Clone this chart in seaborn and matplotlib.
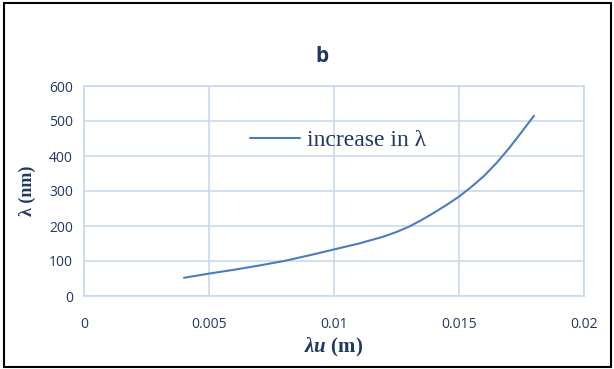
import numpy as np
import pandas as pd
import matplotlib.pyplot as plt
import seaborn as sns
from matplotlib.patches import Rectangle

# values
lambda_u = [0.004, 0.005, 0.006, 0.007, 0.008, 0.009, 0.010, 0.011, 0.012, 0.0125, 0.013, 0.0135,
            0.014, 0.0145, 0.015, 0.0155, 0.016, 0.0165, 0.017, 0.0175, 0.018]
lambda_nm = [52, 64, 75, 87, 100, 116, 133, 150, 170, 183, 198, 217,
             238, 260, 284, 312, 343, 380, 422, 468, 515]
x_ticks = [0, 0.005, 0.01, 0.015, 0.02]
x_tick_labels = ['0', '0.005', '0.01', '0.015', '0.02']
y_ticks = [0, 100, 200, 300, 400, 500, 600]

df = pd.DataFrame({'lambda_u': lambda_u, 'lambda_nm': lambda_nm})

sns.set_style('white')
plt.rcParams['font.family'] = ['Open Sans', 'DejaVu Sans']
plt.rcParams['mathtext.fontset'] = 'custom'
plt.rcParams['mathtext.bfit'] = 'Liberation Serif:italic:bold'
plt.rcParams['mathtext.rm'] = 'Liberation Serif'

text_col = '#1F3864'
grid_col = '#C9D9EE'
line_col = '#4A7EBB'

fig = plt.figure(figsize=(6.14, 3.69), dpi=100)
ax = fig.add_axes([84 / 614, 73 / 369, 500 / 614, 210 / 369])

sns.lineplot(data=df, x='lambda_u', y='lambda_nm', ax=ax, color=line_col, linewidth=1.5,
             label='increase in λ')

ax.set_xlim(0, 0.02)
ax.set_ylim(0, 600)
ax.set_xticks(x_ticks)
ax.set_xticklabels(x_tick_labels)
ax.set_yticks(y_ticks)
ax.grid(True, color=grid_col, linewidth=1.2)
for s in ax.spines.values():
    s.set_color(grid_col)
    s.set_linewidth(1.2)
ax.tick_params(axis='both', length=0, labelsize=10, colors=text_col, pad=8)
ax.tick_params(axis='x', pad=15)

ax.set_xlabel(r'$\mathbfit{\lambda u}$ (m)', fontsize=15, family='Liberation Serif',
              fontweight='bold', color=text_col, labelpad=3)
ax.set_ylabel('λ (nm)', fontsize=13, family='Liberation Serif', fontweight='bold',
              color=text_col, labelpad=9)

fig.text(322 / 614, 1 - 57 / 369, 'b', ha='center', va='center', fontsize=15,
         fontweight='bold', color=text_col)

leg = ax.legend(loc='center left', bbox_to_anchor=(0.29, 0.74), frameon=False,
                prop={'family': 'Liberation Serif', 'size': 17}, handlelength=2.1,
                handletextpad=0.3)
for t in leg.get_texts():
    t.set_color(text_col)

fig.patches.append(Rectangle((4 / 614, 2 / 369), 607 / 614, 364 / 369, transform=fig.transFigure,
                             fill=False, edgecolor='black', linewidth=1.5))

fig.savefig('out.png', dpi=100)
